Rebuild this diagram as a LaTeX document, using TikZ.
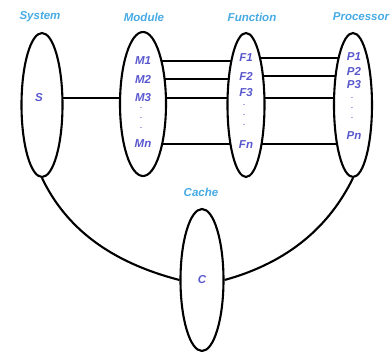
\documentclass[tikz,border=0pt]{standalone}
\usepackage{fontspec}
\setmainfont{Liberation Sans}
\usetikzlibrary{shapes.geometric,backgrounds}
\definecolor{headblue}{RGB}{70,170,228}
\definecolor{itemblue}{RGB}{90,88,206}
\tikzset{
  set/.style={draw=black, line width=2.1pt, fill=white, ellipse, inner sep=0pt,
              minimum width=#1, minimum height=144pt},
  head/.style={text=headblue, font=\bfseries\itshape\fontsize{11.5}{13}\selectfont, inner sep=0pt},
  item/.style={text=itemblue, font=\bfseries\itshape\fontsize{11.5}{13}\selectfont, inner sep=0pt},
  dotsty/.style={text=itemblue, font=\bfseries\fontsize{7}{8}\selectfont, inner sep=0pt},
  link/.style={line width=2.1pt, draw=black}
}
\begin{document}
\begin{tikzpicture}[x=1pt, y=-1pt]
  \useasboundingbox (0,0) rectangle (392,352);

  % column headers
  \node[head] (hs) at (40,17) {System};
  \node[head] (hm) at (144,17) {Module};
  \node[head] (hf) at (252,17) {Function};
  \node[head] (hp) at (361,17) {Processor};
  \node[head] (hc) at (201,192) {Cache};

  % the five sets
  \node[set=41pt] (S) at (42,105) {};
  \node[set=46pt] (M) at (143,104) {};
  \node[set=37pt] (F) at (246,105) {};
  \node[set=38pt] (P) at (353,105) {};
  \node[set=43pt, minimum height=142pt] (C) at (202,280) {};

  % members
  \node[item] (s)  at (39,98) {S};
  \node[item] (m1) at (143,61) {M1};
  \node[item] (m2) at (143,79) {M2};
  \node[item] (m3) at (143,98) {M3};
  \node[dotsty] (md1) at (141,108) {.};
  \node[dotsty] (md2) at (141,118) {.};
  \node[dotsty] (md3) at (141,128) {.};
  \node[item] (mn) at (143,144) {Mn};

  \node[item] (f1) at (246,58) {F1};
  \node[item] (f2) at (246,76) {F2};
  \node[item] (f3) at (246,93) {F3};
  \node[dotsty] (fd1) at (244,105) {.};
  \node[dotsty] (fd2) at (244,115) {.};
  \node[dotsty] (fd3) at (244,125) {.};
  \node[item] (fn) at (246,145) {Fn};

  \node[item] (p1) at (354,57) {P1};
  \node[item] (p2) at (354,71) {P2};
  \node[item] (p3) at (354,85) {P3};
  \node[dotsty] (pd1) at (352,98) {.};
  \node[dotsty] (pd2) at (352,108) {.};
  \node[dotsty] (pd3) at (352,118) {.};
  \node[item] (pn) at (354,136) {Pn};

  \node[item] (c) at (202,280) {C};

  % connectors, kept under the sets
  \begin{scope}[on background layer]
    \draw[link] (S.center |- s) -- (M.center |- s);
    \draw[link] (M.center |- m1) -- (F.center |- m1);
    \draw[link] (M.center |- m2) -- (F.center |- m2);
    \draw[link] (M.center |- m3) -- (F.center |- m3);
    \draw[link] (M.center |- mn) -- (F.center |- mn);
    \draw[link] (F.center |- f1) -- (P.center |- f1);
    \draw[link] (F.center |- f2) -- (P.center |- f2);
    \draw[link] (F.center |- m3) -- (P.center |- m3);
    \draw[link] (F.center |- mn) -- (P.center |- mn);
  \end{scope}
  \draw[link] (S.south) .. controls (66,228) and (110,262) .. (C.west);
  \draw[link] (P.south) .. controls (330,225) and (290,262) .. (C.east);
\end{tikzpicture}
\end{document}
